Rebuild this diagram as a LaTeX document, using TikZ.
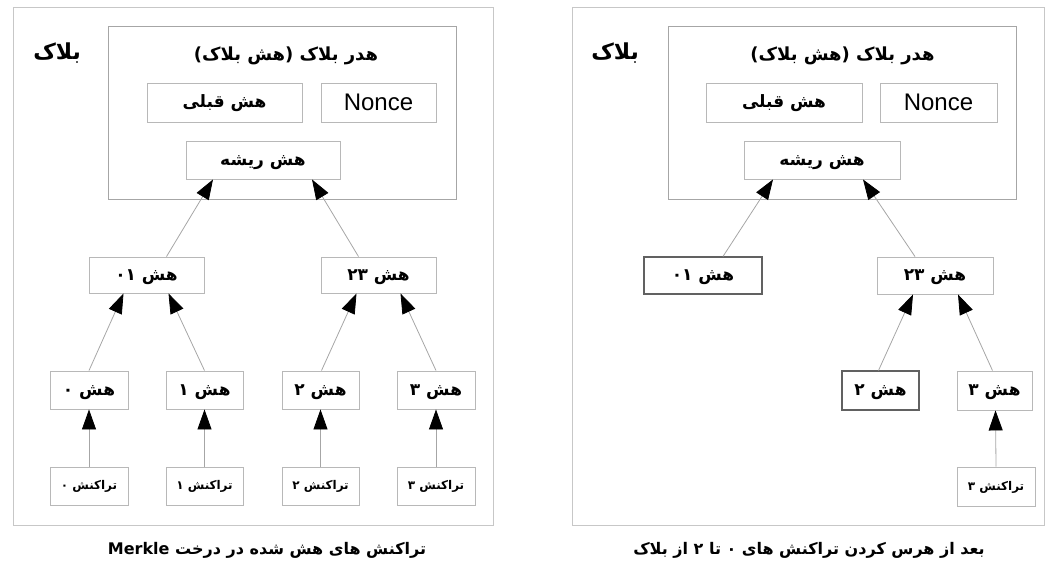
\documentclass[tikz,border=0pt]{standalone}
\usepackage{fontspec}
\setmainfont{Liberation Sans}
\newfontfamily\fa[Script=Arabic]{DejaVu Sans}
\TeXXeTstate=1
\usetikzlibrary{arrows.meta}
\newcommand{\FA}[1]{\raisebox{-0.31em}[0pt][0pt]{\fa\bfseries\beginR #1\endR}}
\newcommand{\LT}[1]{\beginL #1\endL{}}
\tikzset{
  outerbox/.style={draw=black!22, line width=0.9pt, inner sep=0pt},
  hdrbox/.style={draw=black!35, line width=0.9pt, inner sep=0pt},
  cell/.style={draw=black!28, line width=0.9pt, inner sep=0pt},
  keep/.style={draw=black!62, line width=1.1pt, inner sep=0pt},
  conn/.style={draw=black!35, line width=0.8pt, -{Triangle[length=20pt,width=14pt,color=black]}},
  ttl/.style={font=\fontsize{18}{21}\selectfont, inner sep=0pt},
  lbl/.style={font=\fontsize{17}{20}\selectfont},
  txl/.style={font=\fontsize{12}{14}\selectfont},
  blk/.style={font=\fontsize{22}{26}\selectfont, inner sep=0pt},
  captext/.style={font=\fontsize{16}{19}\selectfont, inner sep=0pt},
  noncetext/.style={font=\fontsize{24}{27}\selectfont},
}
\begin{document}
\begin{tikzpicture}[x=1pt,y=-1pt]
\useasboundingbox (0,0) rectangle (1052,567);
% ================= LEFT PANEL =================
\node[outerbox, minimum width=480pt, minimum height=518pt] (outerL) at (253,266) {};
\node[hdrbox, minimum width=348pt, minimum height=173pt] (hdrL) at (282,112.5) {};
\node[blk, anchor=east] (blkL) at (81,53) {\FA{بلاک}};
\node[ttl] (titleL) at (286,55) {\FA{هدر بلاک (هش بلاک)}};
\node[cell, lbl, minimum width=155pt, minimum height=39pt] (prevL) at (224.5,102.5) {\FA{هش قبلی}};
\node[cell, noncetext, minimum width=115pt, minimum height=39pt] (nonceL) at (378.5,102.5) {Nonce};
\node[cell, lbl, minimum width=154pt, minimum height=38pt] (rootL) at (263,160) {\FA{هش ریشه}};
\node[cell, lbl, minimum width=115pt, minimum height=36pt] (h01L) at (146.5,275) {\FA{هش \LT{۰۱}}};
\node[cell, lbl, minimum width=115pt, minimum height=36pt] (h23L) at (378.5,275) {\FA{هش \LT{۲۳}}};
\node[cell, lbl, minimum width=78pt, minimum height=38pt] (h0L) at (89,390) {\FA{هش ۰}};
\node[cell, lbl, minimum width=77pt, minimum height=38pt] (h1L) at (204.5,390) {\FA{هش ۱}};
\node[cell, lbl, minimum width=77pt, minimum height=38pt] (h2L) at (320.5,390) {\FA{هش ۲}};
\node[cell, lbl, minimum width=78pt, minimum height=38pt] (h3L) at (436,390) {\FA{هش ۳}};
\node[cell, txl, minimum width=78pt, minimum height=38pt] (t0L) at (89,486) {\FA{تراکنش ۰}};
\node[cell, txl, minimum width=77pt, minimum height=38pt] (t1L) at (204.5,486) {\FA{تراکنش ۱}};
\node[cell, txl, minimum width=77pt, minimum height=38pt] (t2L) at (320.5,486) {\FA{تراکنش ۲}};
\node[cell, txl, minimum width=78pt, minimum height=38pt] (t3L) at (436,486) {\FA{تراکنش ۳}};
\draw[conn] (t0L.north) -- (h0L.south);
\draw[conn] (t1L.north) -- (h1L.south);
\draw[conn] (t2L.north) -- (h2L.south);
\draw[conn] (t3L.north) -- (h3L.south);
\draw[conn] (h0L.north) -- ([xshift=-23pt]h01L.south);
\draw[conn] (h1L.north) -- ([xshift=22pt]h01L.south);
\draw[conn] ([xshift=1pt]h2L.north) -- ([xshift=-22pt]h23L.south);
\draw[conn] (h3L.north) -- ([xshift=22pt]h23L.south);
\draw[conn] ([xshift=20pt]h01L.north) -- ([xshift=-50pt]rootL.south);
\draw[conn] ([xshift=-20pt]h23L.north) -- ([xshift=49pt]rootL.south);
\node[captext] (capL) at (267,550) {\FA{تراکنش های هش شده در درخت \LT{Merkle}}};
% ================= RIGHT PANEL =================
\node[outerbox, minimum width=472pt, minimum height=518pt] (outerR) at (808,266) {};
\node[hdrbox, minimum width=348pt, minimum height=173pt] (hdrR) at (842,112.5) {};
\node[blk, anchor=east] (blkR) at (639,53) {\FA{بلاک}};
\node[ttl] (titleR) at (842.5,55) {\FA{هدر بلاک (هش بلاک)}};
\node[cell, lbl, minimum width=156pt, minimum height=39pt] (prevR) at (784,102.5) {\FA{هش قبلی}};
\node[cell, noncetext, minimum width=117pt, minimum height=39pt] (nonceR) at (938.5,102.5) {Nonce};
\node[cell, lbl, minimum width=156pt, minimum height=38pt] (rootR) at (822,160) {\FA{هش ریشه}};
\node[keep, lbl, minimum width=118pt, minimum height=37pt] (h01R) at (703,275.5) {\FA{هش \LT{۰۱}}};
\node[cell, lbl, minimum width=116pt, minimum height=37pt] (h23R) at (935,275.5) {\FA{هش \LT{۲۳}}};
\node[keep, lbl, minimum width=77pt, minimum height=39pt] (h2R) at (880.5,390.5) {\FA{هش ۲}};
\node[cell, lbl, minimum width=75pt, minimum height=39pt] (h3R) at (994.5,390.5) {\FA{هش ۳}};
\node[cell, txl, minimum width=78pt, minimum height=39pt] (t3R) at (996,486.5) {\FA{تراکنش ۳}};
\draw[conn] (t3R.north) -- ([xshift=1pt]h3R.south);
\draw[conn] ([xshift=-2pt]h2R.north) -- ([xshift=-22pt]h23R.south);
\draw[conn] ([xshift=-2pt]h3R.north) -- ([xshift=23pt]h23R.south);
\draw[conn] ([xshift=20pt]h01R.north) -- ([xshift=-49pt]rootR.south);
\draw[conn] ([xshift=-20pt]h23R.north) -- ([xshift=41pt]rootR.south);
\node[captext] (capR) at (809,550) {\FA{بعد از هرس کردن تراکنش های ۰ تا ۲ از بلاک}};
\end{tikzpicture}
\end{document}
